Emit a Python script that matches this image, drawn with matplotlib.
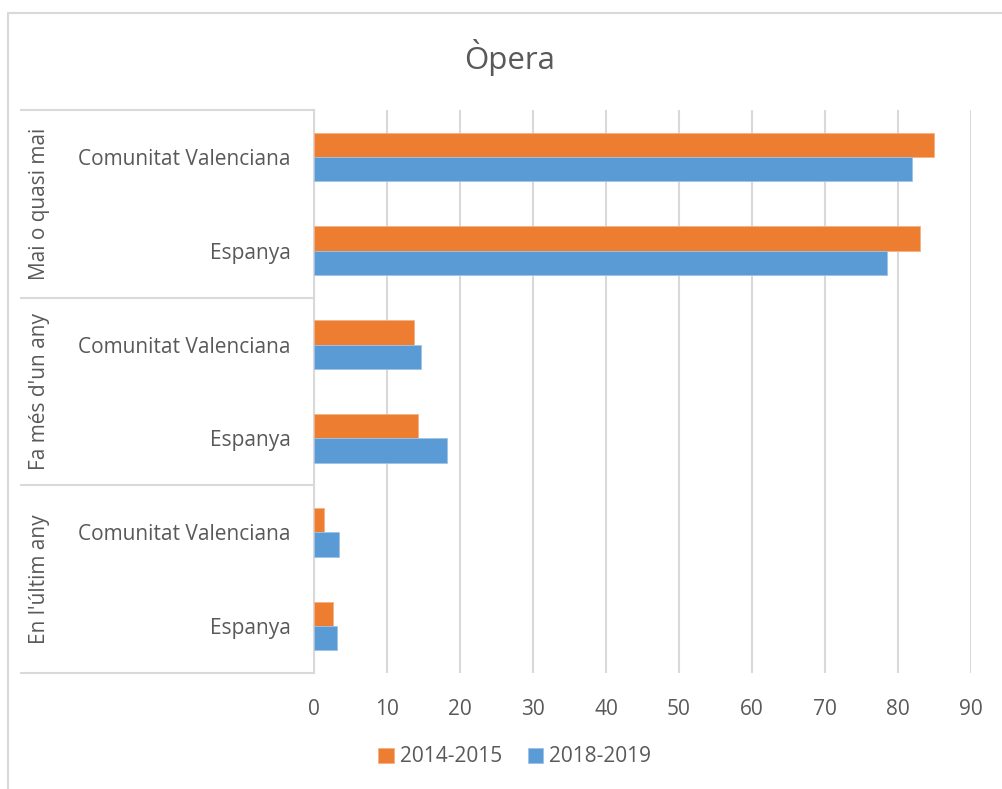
import matplotlib.pyplot as plt
from matplotlib.patches import Rectangle
from matplotlib.lines import Line2D

plt.rcParams['font.family'] = ['Open Sans', 'DejaVu Sans']

grups = ["Mai o quasi mai", "Fa més d'un any", "En l'últim any"]
territoris = ["Comunitat Valenciana", "Espanya"]
series = ["2014-2015", "2018-2019"]
valors_2014 = [84.9, 83.0, 13.7, 14.2, 1.4, 2.6]
valors_2018 = [81.9, 78.5, 14.6, 18.2, 3.4, 3.2]
ticks_x = [0, 10, 20, 30, 40, 50, 60, 70, 80, 90]

taronja = "#ED7D31"
blau = "#5B9BD5"
gris_text = "#595959"
gris_linia = "#D9D9D9"
mida = 15

W, H = 1002, 789
fig = plt.figure(figsize=(W / 100, H / 100), dpi=100)

# marc del gràfic
fig.patches.append(Rectangle((7.5 / W, -0.1), 1.2, 1 - 13 / H + 0.1,
                             transform=fig.transFigure, fill=False,
                             edgecolor=gris_linia, linewidth=1.5))

x0, x1, y0, y1 = 314, 971, 110, 673
ax = fig.add_axes([x0 / W, 1 - y1 / H, (x1 - x0) / W, (y1 - y0) / H])

etiquetes = [t for g in grups for t in territoris]
pos = list(range(len(etiquetes)))
h = 0.26
ax.barh([p - h / 2 for p in pos], valors_2014, height=h, color=taronja,
        edgecolor="#F4B183", linewidth=0.6, label=series[0], zorder=3)
ax.barh([p + h / 2 for p in pos], valors_2018, height=h, color=blau,
        edgecolor="#9DC3E6", linewidth=0.6, label=series[1], zorder=3)

ax.set_xlim(0, 90)
ax.set_ylim(len(etiquetes) - 0.5, -0.5)
ax.set_xticks(ticks_x)
ax.grid(axis="x", color=gris_linia, linewidth=1.5, zorder=0)
ax.set_yticks(pos)
ax.set_yticklabels(etiquetes)
ax.tick_params(axis="y", length=0, pad=17, labelsize=mida, labelcolor=gris_text)
ax.tick_params(axis="x", length=0, pad=19, labelsize=mida, labelcolor=gris_text)
for s in ["top", "right", "bottom"]:
    ax.spines[s].set_visible(False)
ax.spines["left"].set_color(gris_linia)
ax.spines["left"].set_linewidth(1.5)

# separadors i noms dels grups
tr = ax.get_yaxis_transform()
esq = (21 - x0) / (x1 - x0)
for yy in [-0.5, 1.5, 3.5, 5.5]:
    ax.add_line(Line2D([esq, 0], [yy, yy], transform=tr, color=gris_linia,
                       linewidth=1.5, clip_on=False))
for i, g in enumerate(grups):
    ax.text((40 - x0) / (x1 - x0), 2 * i + 0.5, g, transform=tr, rotation=90,
            ha="center", va="center", fontsize=mida, color=gris_text)

fig.text(510 / W, 1 - 58 / H, "Òpera", ha="center", va="center",
         fontsize=22.5, color=gris_text)

fig.legend(loc="center", bbox_to_anchor=(515 / W, 1 - 757 / H), ncol=2,
           frameon=False, fontsize=mida, labelcolor=gris_text,
           handlelength=0.75, handleheight=0.75, handletextpad=0.3,
           columnspacing=1.2)

fig.savefig("out.png", dpi=100)
